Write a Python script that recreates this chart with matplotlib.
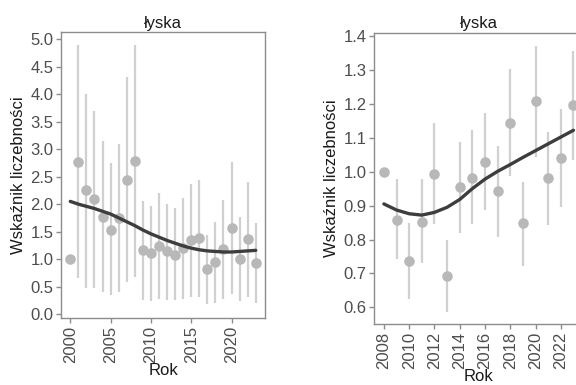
import matplotlib
matplotlib.use("Agg")
import matplotlib.pyplot as plt

plt.rcParams['font.family'] = ['Liberation Sans', 'DejaVu Sans']

# ---- Left panel data (2000-2023)
years_l = list(range(2000, 2024))
idx_l = [1.00, 2.76, 2.26, 2.09, 1.77, 1.53, 1.75, 2.44, 2.78, 1.16, 1.11, 1.24,
         1.14, 1.08, 1.20, 1.35, 1.38, 0.82, 0.94, 1.18, 1.56, 1.00, 1.36, 0.93]
lo_l = [None, 0.65, 0.47, 0.47, 0.41, 0.35, 0.40, 0.59, 0.67, 0.26, 0.24, 0.28,
        0.26, 0.25, 0.28, 0.32, 0.32, 0.19, 0.20, 0.28, 0.37, 0.24, 0.32, 0.20]
hi_l = [None, 4.90, 4.00, 3.70, 3.14, 2.75, 3.10, 4.31, 4.90, 2.05, 1.96, 2.20,
        2.00, 1.93, 2.11, 2.36, 2.44, 1.44, 1.68, 2.08, 2.76, 1.77, 2.41, 1.66]
trend_l = [2.05, 2.00, 1.96, 1.92, 1.87, 1.82, 1.75, 1.68, 1.61, 1.53, 1.46, 1.40,
           1.34, 1.29, 1.24, 1.20, 1.17, 1.15, 1.14, 1.13, 1.13, 1.14, 1.15, 1.16]
xticks_l = [2000, 2005, 2010, 2015, 2020]
yticks_l = [0.0, 0.5, 1.0, 1.5, 2.0, 2.5, 3.0, 3.5, 4.0, 4.5, 5.0]

# ---- Right panel data (2008-2023)
years_r = list(range(2008, 2024))
idx_r = [1.000, 0.859, 0.737, 0.853, 0.993, 0.692, 0.954, 0.982, 1.029, 0.943,
         1.144, 0.848, 1.208, 0.980, 1.039, 1.197]
lo_r = [None, 0.744, 0.625, 0.730, 0.846, 0.587, 0.818, 0.846, 0.887, 0.806,
        0.988, 0.723, 1.044, 0.843, 0.897, 1.034]
hi_r = [None, 0.978, 0.848, 0.977, 1.142, 0.800, 1.088, 1.123, 1.172, 1.077,
        1.302, 0.970, 1.371, 1.118, 1.184, 1.357]
trend_r = [0.905, 0.887, 0.876, 0.872, 0.880, 0.895, 0.918, 0.950, 0.978, 1.001,
           1.021, 1.042, 1.062, 1.082, 1.102, 1.122]
xticks_r = [2008, 2010, 2012, 2014, 2016, 2018, 2020, 2022]
yticks_r = [0.6, 0.7, 0.8, 0.9, 1.0, 1.1, 1.2, 1.3, 1.4]

title = "łyska"
xlabel = "Rok"
ylabel = "Wskaźnik liczebności"

fig = plt.figure(figsize=(5.76, 3.85), dpi=100)
ax1 = fig.add_axes([0.1059, 0.174, 0.3542, 0.743])
ax2 = fig.add_axes([0.650, 0.1584, 0.362, 0.757])

pt_col = '#b8b8b8'
bar_col = '#d0d0d0'
line_col = '#3d3d3d'
frame_col = '#8c8c8c'
tick_col = '#4d4d4d'

def draw(ax, yrs, idx, lo, hi, trend, xt, yt, xlim, ylim, yfmt):
    for x, l, h in zip(yrs, lo, hi):
        if l is not None:
            ax.plot([x, x], [l, h], color=bar_col, lw=1.6, zorder=1, solid_capstyle='butt')
    ax.plot(yrs, idx, 'o', color=pt_col, ms=7.6, mec='none', zorder=2)
    ax.plot(yrs, trend, '-', color=line_col, lw=2.4, zorder=3, solid_capstyle='round')
    ax.set_xlim(*xlim)
    ax.set_ylim(*ylim)
    ax.set_xticks(xt)
    ax.set_xticklabels([str(v) for v in xt], rotation=90)
    ax.set_yticks(yt)
    ax.set_yticklabels([yfmt.format(v) for v in yt])
    for s in ax.spines.values():
        s.set_color(frame_col)
        s.set_linewidth(1.0)
    ax.tick_params(axis='both', colors=frame_col, labelcolor=tick_col,
                   labelsize=12, length=3.5, width=1.0, pad=2)
    ax.set_title(title, fontsize=12, color='#1a1a1a', pad=3)
    ax.set_xlabel(xlabel, fontsize=12, color='#1a1a1a', labelpad=0)
    ax.set_ylabel(ylabel, fontsize=12, color='#1a1a1a', labelpad=3)

draw(ax1, years_l, idx_l, lo_l, hi_l, trend_l, xticks_l, yticks_l,
     (1998.85, 2024.15), (-0.07, 5.13), "{:.1f}")
draw(ax2, years_r, idx_r, lo_r, hi_r, trend_r, xticks_r, yticks_r,
     (2007.25, 2023.75), (0.551, 1.41), "{:.1f}")

fig.savefig("out.png", dpi=100)
